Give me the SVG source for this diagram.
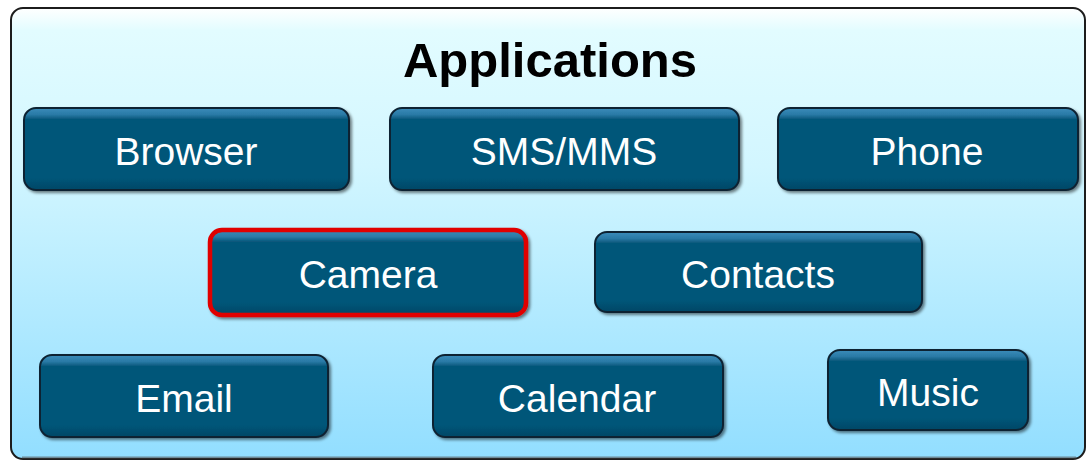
<svg xmlns="http://www.w3.org/2000/svg" width="1088" height="463" viewBox="0 0 1088 463">
  <defs>
    <linearGradient id="panelFill" x1="0" y1="0" x2="0" y2="1">
      <stop offset="0" stop-color="#ffffff"/>
      <stop offset="0.05" stop-color="#e2fcff"/>
      <stop offset="0.35" stop-color="#d2f6ff"/>
      <stop offset="1" stop-color="#92deff"/>
    </linearGradient>
    <linearGradient id="btnFill" x1="0" y1="0" x2="0" y2="1">
      <stop offset="0" stop-color="#3a8cba"/>
      <stop offset="0.08" stop-color="#2a7aa6"/>
      <stop offset="0.14" stop-color="#055679"/>
      <stop offset="0.85" stop-color="#055679"/>
      <stop offset="1" stop-color="#034766"/>
    </linearGradient>
    <filter id="btnShadow" x="-5%" y="-10%" width="112%" height="130%">
      <feGaussianBlur in="SourceAlpha" stdDeviation="1.5"/>
      <feOffset dx="2" dy="2" result="s"/>
      <feComponentTransfer><feFuncA type="linear" slope="0.5"/></feComponentTransfer>
      <feMerge><feMergeNode/><feMergeNode in="SourceGraphic"/></feMerge>
    </filter>
  </defs>
  <style>
    .btn { fill: url(#btnFill); stroke: #0b2333; stroke-width: 2; filter: url(#btnShadow); }
    .btn.sel { stroke: #e00000; stroke-width: 4.5; }
    .label { font-family: "Liberation Sans", Arial, sans-serif; font-size: 39px; fill: #ffffff; text-anchor: middle; }
    .title { font-family: "Liberation Sans", Arial, sans-serif; font-size: 49px; font-weight: bold; fill: #000000; text-anchor: middle; }
  </style>

  <!-- container panel -->
  <g id="applications">
    <rect x="11" y="8" width="1074" height="451" rx="12" ry="12" fill="url(#panelFill)" stroke="#1c1c1c" stroke-width="2"/>
    <line x1="22" y1="457.5" x2="1076" y2="457.5" stroke="#555" stroke-width="2" opacity="0.6"/>
    <text class="title" x="550" y="77">Applications</text>
  </g>

  <g id="browser">
    <rect class="btn" x="24" y="108" width="325" height="82" rx="12"/>
    <text class="label" x="186" y="165">Browser</text>
  </g>
  <g id="sms-mms">
    <rect class="btn" x="390" y="108" width="349" height="82" rx="12"/>
    <text class="label" x="564" y="165">SMS/MMS</text>
  </g>
  <g id="phone">
    <rect class="btn" x="778" y="108" width="300" height="82" rx="12"/>
    <text class="label" x="927" y="165">Phone</text>
  </g>
  <g id="camera">
    <rect class="btn sel" x="210" y="230" width="316" height="85" rx="12"/>
    <text class="label" x="368" y="288">Camera</text>
  </g>
  <g id="contacts">
    <rect class="btn" x="595" y="232" width="327" height="80" rx="12"/>
    <text class="label" x="758" y="288">Contacts</text>
  </g>
  <g id="email">
    <rect class="btn" x="40" y="355" width="288" height="82" rx="12"/>
    <text class="label" x="184" y="412">Email</text>
  </g>
  <g id="calendar">
    <rect class="btn" x="433" y="355" width="290" height="82" rx="12"/>
    <text class="label" x="577" y="412">Calendar</text>
  </g>
  <g id="music">
    <rect class="btn" x="828" y="350" width="200" height="80" rx="12"/>
    <text class="label" x="928" y="406">Music</text>
  </g>

  <g id="connectors"/>
</svg>
